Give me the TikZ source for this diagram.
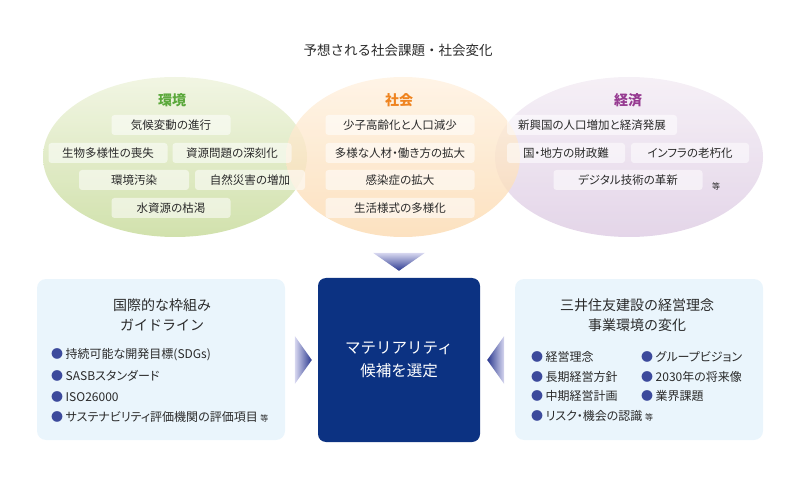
\documentclass[tikz,border=0pt]{standalone}
\usepackage{fontspec}
\setmainfont{Noto Sans CJK JP}
\newfontfamily\tight[RawFeature=+palt]{Noto Sans CJK JP}
\usetikzlibrary{shapes.geometric,calc}
\definecolor{ink}{HTML}{2A2A2A}
\definecolor{envc}{HTML}{5AA83A}
\definecolor{socc}{HTML}{EF8420}
\definecolor{ecoc}{HTML}{963A91}
\definecolor{envA}{HTML}{EEF3DC}
\definecolor{envB}{HTML}{C6DA98}
\definecolor{socA}{HTML}{FFF1E0}
\definecolor{socB}{HTML}{FBDAB0}
\definecolor{ecoA}{HTML}{F3ECF4}
\definecolor{ecoB}{HTML}{DDCBE3}
\definecolor{navy}{HTML}{0C3282}
\definecolor{bul}{HTML}{3C4A9C}
\definecolor{arwA}{HTML}{D8D8F0}
\definecolor{arwB}{HTML}{2B3990}
\definecolor{pale}{HTML}{EAF5FC}

\begin{document}
\begin{tikzpicture}[x=1pt,y=-1pt,
  blob/.style={ellipse,minimum height=160pt,inner sep=0,fill opacity=.8},
  tag/.style={rounded corners=3pt,fill=white,fill opacity=.55,text opacity=1,
    text=ink,minimum height=20pt,inner sep=0,font=\tight\fontsize{11.5}{13}\selectfont},
  cat/.style={font=\fontsize{14}{16}\selectfont\bfseries},
  panel/.style={rounded corners=9pt,fill=pale,minimum width=248pt,
    minimum height=161pt},
  head/.style={align=center,text=ink,font=\fontsize{14}{20}\selectfont},
  bull/.style={anchor=west,inner sep=0,text=ink,
    font=\tight\fontsize{12}{13}\selectfont,
    execute at begin node={\textcolor{bul}{●}\hspace{2.5pt}}}]
  \useasboundingbox (0,0) rectangle (800,478);

  % three fields of social issues
  \node[text=ink,font=\fontsize{13.5}{16}\selectfont] (title) at (398,50)
    {予想される社会課題・社会変化};
  \node[blob,minimum width=264pt,top color=envA,bottom color=envB] (env) at (175,157) {};
  \node[blob,minimum width=268pt,top color=ecoA,bottom color=ecoB] (eco) at (629,157) {};
  \node[blob,minimum width=234pt,top color=socA,bottom color=socB] (soc) at (403,157) {};

  \node[cat,text=envc] (envt) at (172,100) {環境};
  \node[cat,text=socc] (soct) at (399,100) {社会};
  \node[cat,text=ecoc] (ecot) at (628,100) {経済};

  \node[tag,minimum width=119pt] (e1) at (171,125) {気候変動の進行};
  \node[tag,minimum width=119pt] (e2) at (108,153) {生物多様性の喪失};
  \node[tag,minimum width=119pt] (e3) at (232,153) {資源問題の深刻化};
  \node[tag,minimum width=110pt] (e4) at (134,180) {環境汚染};
  \node[tag,minimum width=110pt] (e5) at (250,180) {自然災害の増加};
  \node[tag,minimum width=119pt] (e6) at (171,208) {水資源の枯渇};

  \node[tag,minimum width=149pt] (s1) at (400,125) {少子高齢化と人口減少};
  \node[tag,minimum width=149pt] (s2) at (400,153) {多様な人材・働き方の拡大};
  \node[tag,minimum width=149pt] (s3) at (400,180) {感染症の拡大};
  \node[tag,minimum width=149pt] (s4) at (400,208) {生活様式の多様化};

  \node[tag,minimum width=170pt] (c1) at (592,125) {新興国の人口増加と経済発展};
  \node[tag,minimum width=118pt] (c2) at (566,153) {国・地方の財政難};
  \node[tag,minimum width=118pt] (c3) at (690,153) {インフラの老朽化};
  \node[tag,minimum width=149pt] (c4) at (628,180) {デジタル技術の革新};
  \node[text=ink,font=\fontsize{8}{9}\selectfont] (etc1) at (716,186) {等};

  % selection box and its inputs
  \node[rounded corners=8pt,fill=navy,minimum width=162pt,minimum height=164pt,
    text=white,align=center,font=\fontsize{15.5}{23}\selectfont] (sel) at (399,360)
    {マテリアリティ\\候補を選定};
  \shade[top color=arwA,bottom color=arwB]
    ($(sel.north)+(-26,-25)$) -- ($(sel.north)+(26,-25)$) -- ($(sel.north)+(0,-7)$) -- cycle;
  \shade[left color=arwA,right color=arwB]
    ($(sel.west)+(-23,-24)$) -- ($(sel.west)+(-6,0)$) -- ($(sel.west)+(-23,24)$) -- cycle;
  \shade[left color=arwB,right color=arwA]
    ($(sel.east)+(24,-24)$) -- ($(sel.east)+(7,0)$) -- ($(sel.east)+(24,24)$) -- cycle;

  \node[panel] (fw) at (161,359.5) {};
  \node[head] (fwh) at (162,315) {国際的な枠組み\\ガイドライン};
  \node[bull] (f1) at (51,355) {持続可能な開発目標(SDGs)};
  \node[bull] (f2) at (51,376) {SASBスタンダード};
  \node[bull] (f3) at (51,396.5) {ISO26000};
  \node[bull] (f4) at (51,417) {サステナビリティ評価機関の評価項目 {\fontsize{8}{9}\selectfont 等}};

  \node[panel] (biz) at (639,359.5) {};
  \node[head] (bizh) at (637,315) {三井住友建設の経営理念\\事業環境の変化};
  \node[bull] (g1) at (531,356.5) {経営理念};
  \node[bull] (g2) at (531,376.5) {長期経営方針};
  \node[bull] (g3) at (531,396) {中期経営計画};
  \node[bull] (g4) at (531,415.5) {リスク・機会の認識 {\fontsize{8}{9}\selectfont 等}};
  \node[bull] (h1) at (641,356.5) {グループビジョン};
  \node[bull] (h2) at (641,376.5) {2030年の将来像};
  \node[bull] (h3) at (641,396) {業界課題};
\end{tikzpicture}
\end{document}
